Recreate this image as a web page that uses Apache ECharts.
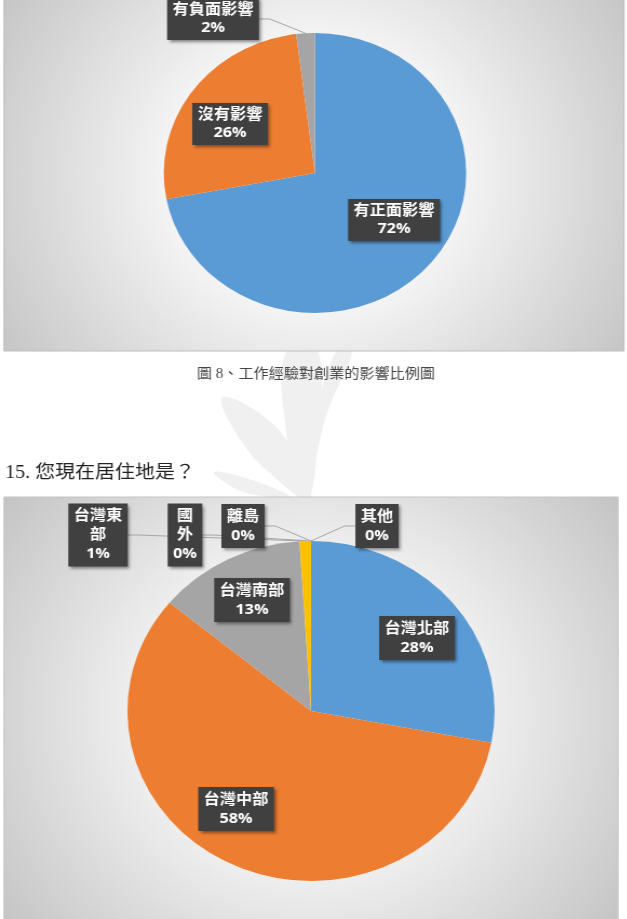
<!DOCTYPE html>
<html><head><meta charset="utf-8">
<script src="https://cdn.jsdelivr.net/npm/echarts@6/dist/echarts.min.js"></script>
<style>
html,body{margin:0;padding:0;background:#fff;overflow:hidden}
#wrap{width:627px;height:919px;overflow:hidden;position:relative}
#chart{width:580.6px;height:919px;transform:scaleX(1.08);transform-origin:0 0}
</style></head>
<body><div id="wrap"><div id="chart"></div></div>
<script>
// horizontal stretch of the original document image
const SX = 1.08;

// ---- Chart 1: 工作經驗對創業的影響 ----
const impactCategories = ['有正面影響', '沒有影響', '有負面影響'];
const impactValues = [72, 26, 2];
const impactColors = ['#5B9BD5', '#ED7D31', '#A5A5A5'];
const impactOutside = [false, false, true];
const impactLabelPos = [[394, 220], [230, 124], [213, 19]];

// ---- Chart 2: 您現在居住地是？ ----
const regionCategories = ['台灣北部', '台灣中部', '台灣南部', '台灣東部', '國外', '離島', '其他'];
const regionLabelText = ['台灣北部', '台灣中部', '台灣南部', '台灣東\n部', '國\n外', '離島', '其他'];
const regionValues = [28, 58, 13, 1, 0, 0, 0];
const regionColors = ['#5B9BD5', '#ED7D31', '#A5A5A5', '#FFC000', '#4472C4', '#70AD47', '#264478'];
const regionOutside = [false, false, false, true, true, true, true];
const regionLabelPos = [[417, 638], [236, 809], [252, 600], [98, 535], [185, 535], [243, 526], [377, 526]];

// ---- texts ----
const captionText = '圖 8、工作經驗對創業的影響比例圖';
const headingText = '15. 您現在居住地是？';

// watermark leaf outlines (original image coordinates)
const leafShapes = [
  [[300, 498], [286, 430], [286, 352], [318, 352], [318, 430], [310, 498]],
  [[312, 470], [328, 410], [352, 352], [336, 352], [318, 410]],
  [[222, 398], [262, 415], [292, 450], [306, 498], [272, 475], [242, 442]],
  [[214, 472], [252, 480], [292, 498], [262, 496], [236, 489]]
];

const labelFont = '"Open Sans","Noto Sans CJK TC",sans-serif';

function labelBase(lh) {
  return {
    show: true,
    color: '#ffffff',
    fontFamily: labelFont,
    fontWeight: 'bold',
    fontSize: 15,
    lineHeight: lh,
    backgroundColor: '#404040',
    padding: [3, 5],
    align: 'center',
    shadowColor: 'rgba(0,0,0,0.45)',
    shadowBlur: 3,
    shadowOffsetX: 2,
    shadowOffsetY: 2
  };
}

function buildData(names, values, colors, outside, texts) {
  return names.map((n, i) => ({
    name: n,
    value: values[i],
    itemStyle: { color: colors[i] },
    label: { position: outside[i] ? 'outside' : 'inside' },
    labelLine: { show: outside[i] },
    labelText: texts ? texts[i] : n
  }));
}

const data1 = buildData(impactCategories, impactValues, impactColors, impactOutside, null);
const data2 = buildData(regionCategories, regionValues, regionColors, regionOutside, regionLabelText);

function makeLayout(pos) {
  return function (p) {
    const q = pos[p.dataIndex];
    return { x: q[0] / SX, y: q[1], align: 'center', verticalAlign: 'middle' };
  };
}

function panelFill(r) {
  return {
    type: 'radial', x: 0.5, y: 0.5, r: r,
    colorStops: [
      { offset: 0, color: '#ffffff' },
      { offset: 0.35, color: '#f7f7f7' },
      { offset: 1, color: '#c2c2c2' }
    ]
  };
}

const chart = echarts.init(document.getElementById('chart'), null, { renderer: 'canvas' });

chart.setOption({
  animation: false,
  backgroundColor: '#ffffff',
  graphic: [
    {
      type: 'group', scaleX: 1 / SX, z: 0, silent: true,
      children: leafShapes.map(pts => ({
        type: 'polygon', shape: { points: pts, smooth: 0.4 }, style: { fill: '#f0f0f0' }
      }))
    },
    {
      type: 'rect', z: 1, silent: true,
      shape: { x: 4 / SX, y: -2, width: 620 / SX, height: 353 },
      style: { fill: panelFill(1.0), stroke: '#bdbdbd', lineWidth: 1 }
    },
    {
      type: 'rect', z: 1, silent: true,
      shape: { x: 4 / SX, y: 497, width: 614 / SX, height: 430 },
      style: { fill: panelFill(0.85), stroke: '#c4c4c4', lineWidth: 1 }
    },
    {
      type: 'text', z: 1, silent: true,
      x: 316 / SX, y: 374,
      style: {
        text: captionText, fill: '#444444', fontSize: 14,
        fontFamily: '"Liberation Serif","Noto Sans CJK TC",serif',
        align: 'center', verticalAlign: 'middle'
      }
    },
    {
      type: 'text', z: 1, silent: true,
      x: 5 / SX, y: 473,
      style: {
        text: headingText, fill: '#222222', fontSize: 18.5,
        fontFamily: '"Liberation Serif","Noto Sans CJK TC",serif',
        align: 'left', verticalAlign: 'middle'
      }
    }
  ],
  series: [
    {
      type: 'pie',
      z: 3,
      center: [315 / SX, 173],
      radius: 140,
      startAngle: 90,
      clockwise: true,
      avoidLabelOverlap: false,
      itemStyle: { borderWidth: 0 },
      label: Object.assign(labelBase(18), {
        formatter: p => p.data.labelText + '\n' + Math.round(p.percent) + '%'
      }),
      labelLine: { show: true, smooth: false, length: 10, length2: 10, lineStyle: { color: '#a6a6a6', width: 1 } },
      labelLayout: makeLayout(impactLabelPos),
      emphasis: { disabled: true },
      data: data1
    },
    {
      type: 'pie',
      z: 3,
      center: [311 / SX, 711],
      radius: 170,
      startAngle: 90,
      clockwise: true,
      avoidLabelOverlap: false,
      itemStyle: { borderWidth: 0 },
      label: Object.assign(labelBase(19), {
        formatter: p => p.data.labelText + '\n' + Math.round(p.percent) + '%'
      }),
      labelLine: { show: true, smooth: false, length: 10, length2: 10, lineStyle: { color: '#a6a6a6', width: 1 } },
      labelLayout: makeLayout(regionLabelPos),
      emphasis: { disabled: true },
      data: data2
    }
  ]
});
</script>
</body></html>
